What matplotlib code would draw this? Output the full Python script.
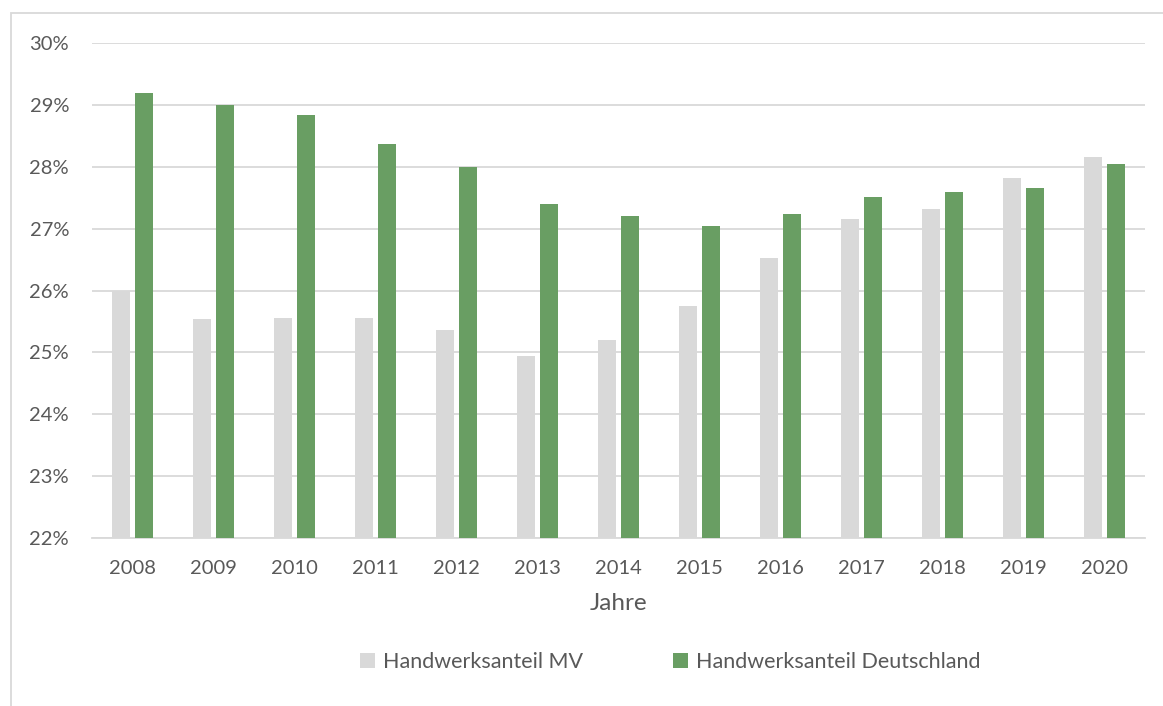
import numpy as np
import matplotlib.pyplot as plt
from matplotlib.patches import Rectangle

years = ["2008", "2009", "2010", "2011", "2012", "2013", "2014",
         "2015", "2016", "2017", "2018", "2019", "2020"]
anteil_mv = [26.0, 25.54, 25.56, 25.56, 25.36, 24.94, 25.2,
             25.75, 26.52, 27.16, 27.31, 27.82, 28.16]
anteil_de = [29.2, 29.0, 28.84, 28.36, 27.99, 27.4, 27.2,
             27.05, 27.24, 27.51, 27.6, 27.66, 28.04]
yticks = [22, 23, 24, 25, 26, 27, 28, 29, 30]

grey = "#D9D9D9"
green = "#699E63"
text_col = "#595959"
fs = 14.5

plt.rcParams['font.family'] = ['Lato', 'DejaVu Sans']

fig = plt.figure(figsize=(11.63, 7.06), dpi=100)
ax = fig.add_axes([92 / 1163, 1 - 538 / 706, (1145 - 92) / 1163, (538 - 43) / 706])

x = np.arange(len(years))
w = 0.222
off = 0.142
ax.bar(x - off, anteil_mv, width=w, bottom=0, color=grey, label="Handwerksanteil MV", zorder=3)
ax.bar(x + off, anteil_de, width=w, bottom=0, color=green, label="Handwerksanteil Deutschland", zorder=3)

ax.set_ylim(22, 30)
ax.set_xlim(-0.5, len(years) - 0.5)
ax.set_yticks(yticks)
ax.set_yticklabels([f"{v}%" for v in yticks])
ax.set_xticks(x)
ax.set_xticklabels(years)
ax.grid(axis='y', color=grey, linewidth=1.3, zorder=0)
for s in ['top', 'right', 'left']:
    ax.spines[s].set_visible(False)
ax.spines['bottom'].set_color(grey)
ax.spines['bottom'].set_linewidth(1.3)
ax.tick_params(axis='both', length=0, labelsize=fs, colors=text_col)
ax.tick_params(axis='x', pad=15.5)
ax.tick_params(axis='y', pad=16.5)
ax.set_xlabel("Jahre", fontsize=17.5, color=text_col, labelpad=12)

# chart frame like the Excel chart area
fig.patches.append(Rectangle((11 / 1163, -0.05), 1.2, 1 - 13 / 706 + 0.05,
                             transform=fig.transFigure, fill=False,
                             edgecolor=grey, linewidth=1.3))

ax.legend(loc='center', bbox_to_anchor=(670 / 1163, 1 - 662 / 706), bbox_transform=fig.transFigure,
          ncol=2, frameon=False, fontsize=15.5, labelcolor=text_col,
          handlelength=0.7, handleheight=0.7, handletextpad=0.35, columnspacing=4.2)

fig.savefig("out.png", dpi=100)
